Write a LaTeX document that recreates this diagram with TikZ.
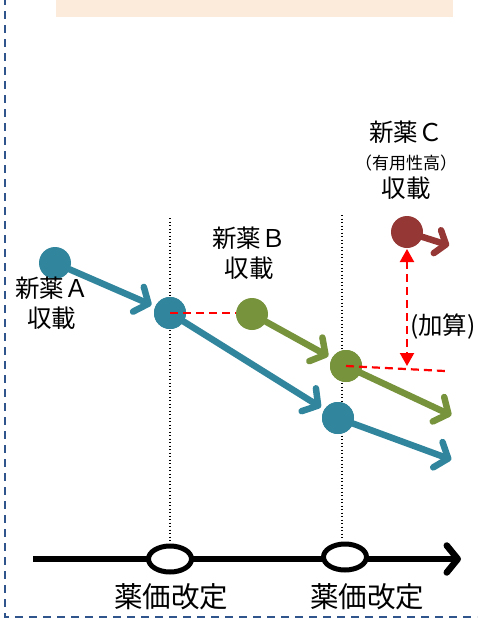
\documentclass[tikz,border=0pt]{standalone}
\usepackage{fontspec}
\setmainfont{Noto Sans CJK JP}
\usetikzlibrary{arrows.meta,shapes.geometric}
\definecolor{teal1}{RGB}{49,133,156}
\definecolor{green1}{RGB}{119,147,60}
\definecolor{brown1}{RGB}{149,55,53}
\definecolor{frameblue}{RGB}{47,85,140}
\definecolor{peach}{RGB}{252,234,219}
\tikzset{
  dot/.style={circle, fill=#1, minimum size=32pt, inner sep=0pt},
  trend/.style={line width=6.5pt, draw=#1, line cap=round, -{Straight Barb[round, length=11pt, width=27pt]}, shorten >=4pt},
  reddash/.style={red, line width=2.2pt, dash pattern=on 8pt off 5pt},
  vdot/.style={line width=1.3pt, dash pattern=on 1.3pt off 2.2pt},
  lbl/.style={align=center, inner sep=0pt, font=\fontsize{24.5}{30}\selectfont},
  big/.style={inner sep=0pt, font=\fontsize{28.5}{30}\selectfont},
  evt/.style={ellipse, draw=black, line width=5pt, fill=white, minimum width=43pt, minimum height=26pt, inner sep=0pt}
}
\begin{document}
\begin{tikzpicture}[x=1pt, y=-1pt]
\useasboundingbox (0,0) rectangle (477,619);
\clip (0,0) rectangle (477,619);
% top band
\fill[peach] (56,0) rectangle (453,17);
% frame
\draw[frameblue, line width=2pt, dash pattern=on 8pt off 6pt] (5,-3) -- (5,617) -- (480,617);
% dotted verticals
\draw[vdot] (170,218) -- (170,545);
\draw[vdot] (342,215) -- (342,540);
% timeline
\coordinate (t0) at (33,559);
\coordinate (t1) at (461,559);
\draw[line width=6.5pt, -{Straight Barb[round, length=11pt, width=27pt]}] (t0) -- (t1);
\node[evt] (e1) at (170,559) {};
\node[evt] (e2) at (345,557) {};
\node[big] (l1) at (171,597) {薬価改定};
\node[big] (l2) at (367,597) {薬価改定};
% dots
\node[dot=teal1] (a1) at (55,263) {};
\node[dot=teal1] (a2) at (170,313) {};
\node[dot=teal1] (a3) at (338,418) {};
\node[dot=green1] (b1) at (252,314) {};
\node[dot=green1] (b2) at (346,366) {};
\node[dot=brown1] (c1) at (407,232) {};
\coordinate (aend) at (455,461);
\coordinate (bend) at (455,417);
\coordinate (cend) at (451,246);
% trends
\draw[trend=teal1] (a1) -- (a2);
\draw[trend=teal1] (a2) -- (a3);
\draw[trend=teal1] (a3) -- (aend);
\draw[trend=green1] (b1) -- (b2);
\draw[trend=green1] (b2) -- (bend);
\draw[trend=brown1, shorten >=2pt, -{Straight Barb[round, length=9pt, width=24pt]}] (c1) -- (cend);
\node[dot=teal1] at (a2) {};
\node[dot=teal1] at (a3) {};
\node[dot=green1] at (b2) {};
% red dashed
\coordinate (r1) at (445,371);
\draw[reddash] (a2.center) -- (a2 -| b1.west);
\draw[reddash] (b2.center) -- (r1);
\coordinate (v0) at (407,249);
\coordinate (v1) at (407,366);
\draw[reddash, {Triangle[length=13pt, width=14pt]}-{Triangle[length=13pt, width=14pt]}] (v0) -- (v1);
% labels
\node[lbl] (la) at (52,303) {新薬Ａ\\収載};
\node[lbl] (lb) at (249,253) {新薬Ｂ\\収載};
\node[lbl] (lc) at (406,160) {新薬Ｃ\\[-2pt]{\fontsize{17}{18}\selectfont （有用性高）}\\[-2pt]収載};
\node[lbl, anchor=west] (lk) at (410,327) {(加算)};
\end{tikzpicture}
\end{document}
